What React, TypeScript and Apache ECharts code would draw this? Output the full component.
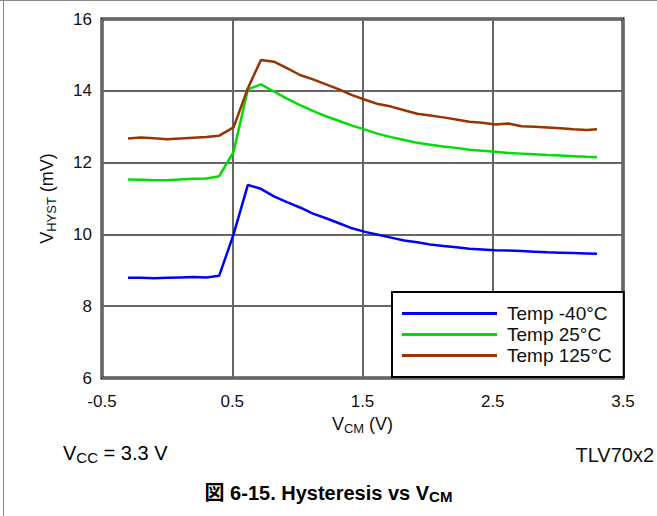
import React, { useEffect, useRef } from "react";
import * as echarts from "echarts";

const xValues = [-0.3, -0.2, -0.1, 0, 0.1, 0.2, 0.3, 0.4, 0.51, 0.62, 0.72, 0.82, 0.92, 1.02, 1.12, 1.22, 1.32, 1.42, 1.52, 1.62, 1.72, 1.82, 1.92, 2.02, 2.12, 2.22, 2.32, 2.42, 2.52, 2.62, 2.72, 2.82, 2.92, 3.02, 3.12, 3.22, 3.3];

const tempM40 = [8.79, 8.79, 8.78, 8.79, 8.8, 8.81, 8.8, 8.85, 10.0, 11.38, 11.27, 11.06, 10.9, 10.75, 10.58, 10.45, 10.31, 10.17, 10.07, 9.99, 9.91, 9.83, 9.78, 9.72, 9.68, 9.64, 9.6, 9.58, 9.56, 9.55, 9.54, 9.52, 9.5, 9.49, 9.48, 9.47, 9.46];
const temp25 = [11.53, 11.52, 11.51, 11.51, 11.53, 11.55, 11.56, 11.62, 12.3, 14.04, 14.18, 13.98, 13.78, 13.6, 13.44, 13.29, 13.16, 13.03, 12.92, 12.8, 12.71, 12.63, 12.55, 12.5, 12.45, 12.41, 12.36, 12.33, 12.3, 12.27, 12.25, 12.23, 12.21, 12.2, 12.18, 12.16, 12.15];
const temp125 = [12.67, 12.7, 12.68, 12.65, 12.67, 12.69, 12.71, 12.75, 12.98, 14.07, 14.86, 14.81, 14.63, 14.44, 14.32, 14.18, 14.04, 13.88, 13.75, 13.63, 13.56, 13.46, 13.36, 13.31, 13.26, 13.2, 13.14, 13.11, 13.06, 13.09, 13.01, 13.0, 12.98, 12.96, 12.93, 12.91, 12.93];

const seriesNames = ["Temp -40°C", "Temp 25°C", "Temp 125°C"];
const seriesColors = ["#0000ff", "#00dd00", "#993300"];
const seriesValues = [tempM40, temp25, temp125];

const FONT = "Liberation Sans, Arial, Helvetica, Noto Sans CJK JP, sans-serif";

export default function App() {
  const ref = useRef<HTMLDivElement>(null);
  useEffect(() => {
    if (!ref.current) return;
    const chart = echarts.init(ref.current, null, { renderer: "svg" });
    const subRich = {
      v: { fontSize: 18, fontFamily: FONT, color: "#111", lineHeight: 22 },
      s: { fontSize: 13, fontFamily: FONT, color: "#111", lineHeight: 13, verticalAlign: "bottom" },
    };
    const bigRich = {
      v: { fontSize: 20, fontFamily: FONT, color: "#111", lineHeight: 24 },
      s: { fontSize: 15, fontFamily: FONT, color: "#111", lineHeight: 14, verticalAlign: "bottom" },
    };
    chart.setOption({
      animation: false,
      backgroundColor: "#fff",
      textStyle: { fontFamily: FONT },
      grid: {
        left: 102,
        top: 19,
        width: 521,
        height: 359,
        show: true,
        borderColor: "#000",
        borderWidth: 3,
        backgroundColor: "transparent",
      },
      xAxis: {
        type: "value",
        min: -0.5,
        max: 3.5,
        interval: 1,
        axisLine: { show: false },
        axisTick: { show: false },
        axisLabel: {
          margin: 15,
          fontSize: 17,
          color: "#111",
          fontFamily: FONT,
          formatter: (v: number) => v.toFixed(1),
        },
        splitLine: { show: true, lineStyle: { color: "#666", width: 2 } },
        name: "{v|V}{s|CM}{v| (V)}",
        nameLocation: "middle",
        nameGap: 34,
        nameTextStyle: { rich: subRich },
      },
      yAxis: {
        type: "value",
        min: 6,
        max: 16,
        interval: 2,
        axisLine: { show: false },
        axisTick: { show: true, length: 6, lineStyle: { color: "#666", width: 2 } },
        axisLabel: { margin: 10, fontSize: 17, color: "#111", fontFamily: FONT },
        splitLine: { show: true, lineStyle: { color: "#666", width: 2 } },
        name: "{v|V}{s|HYST}{v| (mV)}",
        nameLocation: "middle",
        nameGap: 44,
        nameRotate: 90,
        nameTextStyle: { rich: subRich },
      },
      legend: {
        orient: "vertical",
        left: 392,
        top: 292,
        backgroundColor: "#fff",
        borderColor: "#000",
        borderWidth: 2,
        borderRadius: 0,
        padding: [12, 10, 12, 10],
        itemGap: 2,
        itemWidth: 95,
        itemHeight: 3,
        icon: "rect",
        textStyle: { fontSize: 19, color: "#111", fontFamily: FONT, lineHeight: 18, padding: [0, 2, 0, 5] },
        data: seriesNames,
      },
      series: seriesNames.map((name, i) => ({
        name,
        type: "line",
        symbol: "none",
        color: seriesColors[i],
        lineStyle: { color: seriesColors[i], width: 2.5 },
        data: xValues.map((x, j) => [x, seriesValues[i][j]]),
        z: 3,
      })),
      graphic: [
        { type: "line", shape: { x1: 3.5, y1: 0, x2: 3.5, y2: 516 }, style: { stroke: "#888", lineWidth: 1 } },
        { type: "line", shape: { x1: 0, y1: 0.5, x2: 657, y2: 0.5 }, style: { stroke: "#888", lineWidth: 1 } },
        {
          type: "text",
          left: 63,
          top: 443,
          style: {
            text: "{v|V}{s|CC}{v| = 3.3 V}",
            rich: bigRich,
          },
        },
        {
          type: "text",
          right: 3,
          top: 443,
          style: { text: "TLV70x2", fontSize: 20, fontFamily: FONT, fill: "#111", lineHeight: 24 },
        },
        {
          type: "text",
          left: "center",
          top: 483,
          style: {
            text: "{b|図 6-15. Hysteresis vs V}{c|CM}",
            rich: {
              b: { fontSize: 20, fontWeight: "bold", fontFamily: FONT, color: "#111", lineHeight: 23 },
              c: { fontSize: 15, fontWeight: "bold", fontFamily: FONT, color: "#111", lineHeight: 14, verticalAlign: "bottom" },
            },
          },
        },
      ],
    });
    return () => chart.dispose();
  }, []);
  return <div ref={ref} style={{ position: "fixed", left: 0, top: 0, width: 657, height: 516 }} />;
}
